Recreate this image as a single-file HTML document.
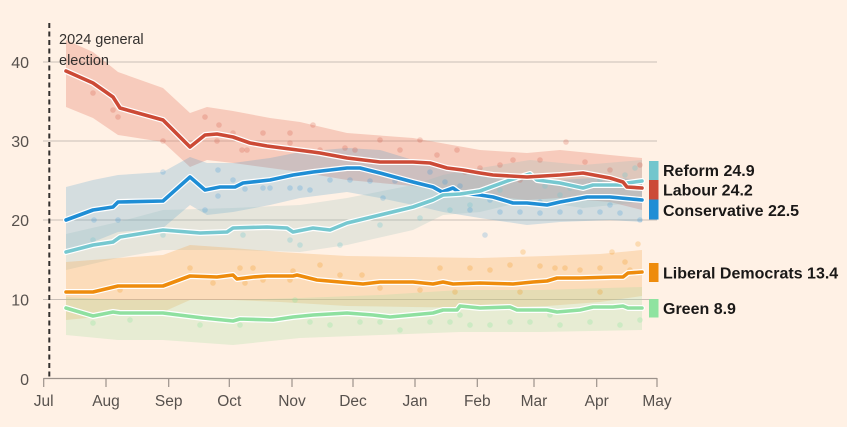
<!DOCTYPE html>
<html><head><meta charset="utf-8"><style>
html,body{margin:0;padding:0;background:#fff1e5;}
svg{display:block;font-family:"Liberation Sans",sans-serif;}
</style></head><body>
<svg width="847" height="427" viewBox="0 0 847 427" xmlns="http://www.w3.org/2000/svg">
<rect width="847" height="427" fill="#fff1e5"/>
<!-- gridlines -->
<g stroke="#c9bfb7" stroke-width="1">
<line x1="43" y1="62" x2="657" y2="62"/>
<line x1="43" y1="141" x2="657" y2="141"/>
<line x1="43" y1="220" x2="657" y2="220"/>
<line x1="43" y1="299.5" x2="657" y2="299.5"/>
</g>
<!-- bands -->
<g>
<polygon fill="#e8806b" fill-opacity="0.33" points="66,40 93,52 118,72 163,88 190,113 207,107 233,111 270,118 300,122 347,133 413,138 480,150 527,153 560,150 610,155 642,158 642,210 610,202 560,198 527,200 480,195 413,186 347,180 300,172 270,168 233,163 207,160 190,167 163,142 118,135 93,118 66,107"/>
<polygon fill="#3d98cf" fill-opacity="0.22" points="66,187 93,180 118,175 163,172 190,157 207,163 233,163 270,158 300,152 347,148 380,150 413,160 443,170 480,175 527,180 560,180 610,177 642,180 642,222 610,220 560,222 527,225 480,218 443,212 413,205 380,198 347,192 300,198 270,205 233,212 207,215 190,205 163,228 118,232 93,242 66,250"/>
<polygon fill="#8fbcbc" fill-opacity="0.22" points="66,234 118,222 163,210 233,208 300,205 347,198 413,185 443,175 480,168 530,160 583,165 642,160 642,202 583,208 530,200 480,212 443,215 413,230 347,245 300,252 233,250 163,250 118,258 66,270"/>
<polygon fill="#f5a54a" fill-opacity="0.28" points="66,262 118,258 163,255 190,245 233,248 280,252 347,256 413,257 480,258 547,256 600,254 642,250 642,296 600,302 547,306 480,308 413,307 347,306 280,302 233,300 190,300 163,312 118,315 66,320"/>
<polygon fill="#a8e0a4" fill-opacity="0.28" points="66,297 118,300 163,300 233,300 300,298 380,295 460,290 540,290 642,287 642,330 540,332 460,332 380,335 300,338 233,345 163,340 118,340 66,335"/>
</g>
<!-- dots -->
<g fill="#d04a37" fill-opacity="0.22">
<circle cx="93" cy="93" r="2.8"/><circle cx="113" cy="110" r="2.8"/><circle cx="118" cy="117" r="2.8"/><circle cx="163" cy="141" r="2.8"/><circle cx="205" cy="117" r="2.8"/><circle cx="219" cy="125" r="2.8"/><circle cx="217" cy="141" r="2.8"/><circle cx="233" cy="133" r="2.8"/><circle cx="242" cy="150" r="2.8"/><circle cx="247" cy="150" r="2.8"/><circle cx="263" cy="133" r="2.8"/><circle cx="290" cy="133" r="2.8"/><circle cx="290" cy="143" r="2.8"/><circle cx="320" cy="150" r="2.8"/><circle cx="313" cy="125" r="2.8"/><circle cx="345" cy="148" r="2.8"/><circle cx="355" cy="150" r="2.8"/><circle cx="380" cy="140" r="2.8"/><circle cx="400" cy="150" r="2.8"/><circle cx="420" cy="140" r="2.8"/><circle cx="437" cy="155" r="2.8"/><circle cx="457" cy="150" r="2.8"/><circle cx="480" cy="168" r="2.8"/><circle cx="500" cy="165" r="2.8"/><circle cx="513" cy="160" r="2.8"/><circle cx="540" cy="160" r="2.8"/><circle cx="566" cy="142" r="2.8"/><circle cx="585" cy="162" r="2.8"/><circle cx="610" cy="170" r="2.8"/><circle cx="640" cy="165" r="2.8"/><circle cx="465" cy="172" r="2.8"/><circle cx="590" cy="185" r="2.8"/><circle cx="520" cy="180" r="2.8"/>
</g>
<g fill="#1f8ed5" fill-opacity="0.2">
<circle cx="94" cy="220" r="2.8"/><circle cx="118" cy="220" r="2.8"/><circle cx="163" cy="172" r="2.8"/><circle cx="205" cy="210" r="2.8"/><circle cx="218" cy="170" r="2.8"/><circle cx="218" cy="196" r="2.8"/><circle cx="233" cy="180" r="2.8"/><circle cx="245" cy="189" r="2.8"/><circle cx="263" cy="188" r="2.8"/><circle cx="270" cy="188" r="2.8"/><circle cx="290" cy="188" r="2.8"/><circle cx="300" cy="188" r="2.8"/><circle cx="310" cy="190" r="2.8"/><circle cx="330" cy="180" r="2.8"/><circle cx="350" cy="180" r="2.8"/><circle cx="370" cy="181" r="2.8"/><circle cx="383" cy="198" r="2.8"/><circle cx="395" cy="181" r="2.8"/><circle cx="430" cy="172" r="2.8"/><circle cx="445" cy="182" r="2.8"/><circle cx="460" cy="186" r="2.8"/><circle cx="470" cy="210" r="2.8"/><circle cx="500" cy="212" r="2.8"/><circle cx="520" cy="212" r="2.8"/><circle cx="540" cy="213" r="2.8"/><circle cx="560" cy="212" r="2.8"/><circle cx="580" cy="212" r="2.8"/><circle cx="600" cy="212" r="2.8"/><circle cx="620" cy="213" r="2.8"/><circle cx="640" cy="220" r="2.8"/><circle cx="490" cy="200" r="2.8"/><circle cx="540" cy="202" r="2.8"/><circle cx="610" cy="205" r="2.8"/><circle cx="485" cy="235" r="2.8"/>
</g>
<g fill="#73c6cd" fill-opacity="0.3">
<circle cx="93" cy="240" r="2.8"/><circle cx="163" cy="235" r="2.8"/><circle cx="233" cy="228" r="2.8"/><circle cx="243" cy="235" r="2.8"/><circle cx="290" cy="240" r="2.8"/><circle cx="300" cy="245" r="2.8"/><circle cx="340" cy="245" r="2.8"/><circle cx="380" cy="225" r="2.8"/><circle cx="420" cy="218" r="2.8"/><circle cx="450" cy="210" r="2.8"/><circle cx="470" cy="205" r="2.8"/><circle cx="500" cy="190" r="2.8"/><circle cx="520" cy="178" r="2.8"/><circle cx="545" cy="186" r="2.8"/><circle cx="570" cy="188" r="2.8"/><circle cx="600" cy="180" r="2.8"/><circle cx="625" cy="175" r="2.8"/><circle cx="635" cy="168" r="2.8"/><circle cx="560" cy="195" r="2.8"/>
</g>
<g fill="#f08c00" fill-opacity="0.22">
<circle cx="120" cy="290" r="2.8"/><circle cx="190" cy="268" r="2.8"/><circle cx="213" cy="283" r="2.8"/><circle cx="240" cy="268" r="2.8"/><circle cx="245" cy="283" r="2.8"/><circle cx="253" cy="268" r="2.8"/><circle cx="263" cy="280" r="2.8"/><circle cx="290" cy="280" r="2.8"/><circle cx="293" cy="271" r="2.8"/><circle cx="320" cy="265" r="2.8"/><circle cx="340" cy="275" r="2.8"/><circle cx="362" cy="275" r="2.8"/><circle cx="380" cy="288" r="2.8"/><circle cx="420" cy="290" r="2.8"/><circle cx="440" cy="268" r="2.8"/><circle cx="455" cy="292" r="2.8"/><circle cx="470" cy="268" r="2.8"/><circle cx="490" cy="270" r="2.8"/><circle cx="510" cy="265" r="2.8"/><circle cx="520" cy="292" r="2.8"/><circle cx="540" cy="266" r="2.8"/><circle cx="555" cy="268" r="2.8"/><circle cx="565" cy="268" r="2.8"/><circle cx="580" cy="270" r="2.8"/><circle cx="600" cy="268" r="2.8"/><circle cx="612" cy="252" r="2.8"/><circle cx="625" cy="262" r="2.8"/><circle cx="638" cy="244" r="2.8"/><circle cx="600" cy="292" r="2.8"/><circle cx="630" cy="270" r="2.8"/><circle cx="523" cy="252" r="2.8"/>
</g>
<g fill="#8fe3a0" fill-opacity="0.3">
<circle cx="93" cy="323" r="2.8"/><circle cx="130" cy="320" r="2.8"/><circle cx="200" cy="325" r="2.8"/><circle cx="240" cy="325" r="2.8"/><circle cx="295" cy="300" r="2.8"/><circle cx="310" cy="322" r="2.8"/><circle cx="330" cy="325" r="2.8"/><circle cx="360" cy="322" r="2.8"/><circle cx="380" cy="322" r="2.8"/><circle cx="400" cy="330" r="2.8"/><circle cx="430" cy="322" r="2.8"/><circle cx="450" cy="322" r="2.8"/><circle cx="470" cy="325" r="2.8"/><circle cx="490" cy="325" r="2.8"/><circle cx="510" cy="322" r="2.8"/><circle cx="530" cy="322" r="2.8"/><circle cx="560" cy="325" r="2.8"/><circle cx="590" cy="322" r="2.8"/><circle cx="620" cy="325" r="2.8"/><circle cx="640" cy="320" r="2.8"/><circle cx="460" cy="315" r="2.8"/><circle cx="550" cy="315" r="2.8"/>
</g>
<!-- lines -->
<g fill="none" stroke-linejoin="round" stroke-linecap="round">
<polyline stroke="#fff" stroke-width="6" points="66,308 93,316 113,312 120,313 163,313 203,318 233,321 240,319 273,320 293,317 313,315 347,313 373,315 390,317 433,313 443,310 457,310 460,306 480,308 510,307 517,310 547,310 557,312 580,310 593,307 613,307 623,306 628,308 642,308"/>
<polyline stroke="#8fe0a0" stroke-width="3.6" points="66,308 93,316 113,312 120,313 163,313 203,318 233,321 240,319 273,320 293,317 313,315 347,313 373,315 390,317 433,313 443,310 457,310 460,306 480,308 510,307 517,310 547,310 557,312 580,310 593,307 613,307 623,306 628,308 642,308"/>
<polyline stroke="#fff" stroke-width="6" points="66,292 93,292 118,286 163,286 190,276 217,277 233,275 237,279 253,277 267,276 293,276 297,275 317,280 340,282 363,284 380,282 413,282 433,284 443,282 453,284 480,283 513,284 533,282 547,281 557,278 580,278 613,277 623,277 628,273 642,272"/>
<polyline stroke="#ee8c0d" stroke-width="3.6" points="66,292 93,292 118,286 163,286 190,276 217,277 233,275 237,279 253,277 267,276 293,276 297,275 317,280 340,282 363,284 380,282 413,282 433,284 443,282 453,284 480,283 513,284 533,282 547,281 557,278 580,278 613,277 623,277 628,273 642,272"/>
<polyline stroke="#fff" stroke-width="6" points="66,220 93,210 113,207 118,202 163,201 190,177 205,190 220,187 235,187 243,183 270,180 293,175 313,172 347,168 360,168 380,173 413,182 433,187 442,192 453,188 460,193 480,195 493,197 513,203 527,203 547,205 560,202 587,197 610,197 642,200"/>
<polyline stroke="#1f8ed5" stroke-width="3.6" points="66,220 93,210 113,207 118,202 163,201 190,177 205,190 220,187 235,187 243,183 270,180 293,175 313,172 347,168 360,168 380,173 413,182 433,187 442,192 453,188 460,193 480,195 493,197 513,203 527,203 547,205 560,202 587,197 610,197 642,200"/>
<polyline stroke="#fff" stroke-width="6" points="66,252 93,245 113,242 120,237 163,230 200,233 227,232 233,228 267,227 287,228 293,232 313,228 330,230 347,223 380,215 413,207 433,200 443,195 460,194 480,191 510,180 530,174 537,180 560,183 583,188 593,185 623,185 627,183 642,181"/>
<polyline stroke="#76c8d0" stroke-width="3.6" points="66,252 93,245 113,242 120,237 163,230 200,233 227,232 233,228 267,227 287,228 293,232 313,228 330,230 347,223 380,215 413,207 433,200 443,195 460,194 480,191 510,180 530,174 537,180 560,183 583,188 593,185 623,185 627,183 642,181"/>
<polyline stroke="#fff" stroke-width="6" points="66,71 93,83 113,97 120,108 163,120 190,147 205,135 217,134 233,137 250,143 267,146 290,149 313,152 320,153 347,158 380,162 413,162 430,163 447,168 463,170 480,173 493,175 527,177 560,175 583,173 610,178 623,182 627,187 642,188"/>
<polyline stroke="#cc4a36" stroke-width="3.6" points="66,71 93,83 113,97 120,108 163,120 190,147 205,135 217,134 233,137 250,143 267,146 290,149 313,152 320,153 347,158 380,162 413,162 430,163 447,168 463,170 480,173 493,175 527,177 560,175 583,173 610,178 623,182 627,187 642,188"/>
</g>
<!-- axis -->
<g stroke="#9c928b" stroke-width="1.2">
<line x1="43.5" y1="378.5" x2="657" y2="378.5"/>
<line x1="43.7" y1="378" x2="43.7" y2="387"/>
<line x1="106" y1="378" x2="106" y2="387"/>
<line x1="168.7" y1="378" x2="168.7" y2="387"/>
<line x1="229.3" y1="378" x2="229.3" y2="387"/>
<line x1="292" y1="378" x2="292" y2="387"/>
<line x1="353" y1="378" x2="353" y2="387"/>
<line x1="415" y1="378" x2="415" y2="387"/>
<line x1="477.3" y1="378" x2="477.3" y2="387"/>
<line x1="534" y1="378" x2="534" y2="387"/>
<line x1="596.7" y1="378" x2="596.7" y2="387"/>
<line x1="657" y1="378" x2="657" y2="387"/>
</g>
<!-- election dashed line -->
<line x1="49.3" y1="23" x2="49.3" y2="379" stroke="#33302e" stroke-width="2" stroke-dasharray="5,3.5"/>
<text x="59" y="44" font-size="14.5" fill="#33302e">2024 general</text>
<text x="59" y="65" font-size="14.5" fill="#33302e">election</text>
<!-- y labels -->
<g font-size="16" fill="#57514d" text-anchor="end">
<text x="29" y="68">40</text>
<text x="29" y="147">30</text>
<text x="29" y="226">20</text>
<text x="29" y="305.5">10</text>
<text x="29" y="385">0</text>
</g>
<!-- x labels -->
<g font-size="15.5" fill="#57514d" text-anchor="middle">
<text x="43.7" y="406">Jul</text>
<text x="106" y="406">Aug</text>
<text x="168.7" y="406">Sep</text>
<text x="229.3" y="406">Oct</text>
<text x="292" y="406">Nov</text>
<text x="353" y="406">Dec</text>
<text x="415" y="406">Jan</text>
<text x="477.3" y="406">Feb</text>
<text x="534" y="406">Mar</text>
<text x="596.7" y="406">Apr</text>
<text x="657" y="406">May</text>
</g>
<!-- legend -->
<rect x="649" y="161" width="9.5" height="19" fill="#73c6cd"/>
<rect x="649" y="180" width="9.5" height="19.5" fill="#cc4a36"/>
<rect x="649" y="199.5" width="9.5" height="20" fill="#1f8ed5"/>
<rect x="649" y="263" width="9.5" height="19" fill="#ee8c0d"/>
<rect x="649" y="299" width="9.5" height="18.5" fill="#8fe3a0"/>
<g font-size="16" font-weight="bold" fill="#1a1817">
<text x="663" y="176">Reform 24.9</text>
<text x="663" y="195.5">Labour 24.2</text>
<text x="663" y="216">Conservative 22.5</text>
<text x="663" y="278.5">Liberal Democrats 13.4</text>
<text x="663" y="314">Green 8.9</text>
</g>
</svg>
</body></html>
